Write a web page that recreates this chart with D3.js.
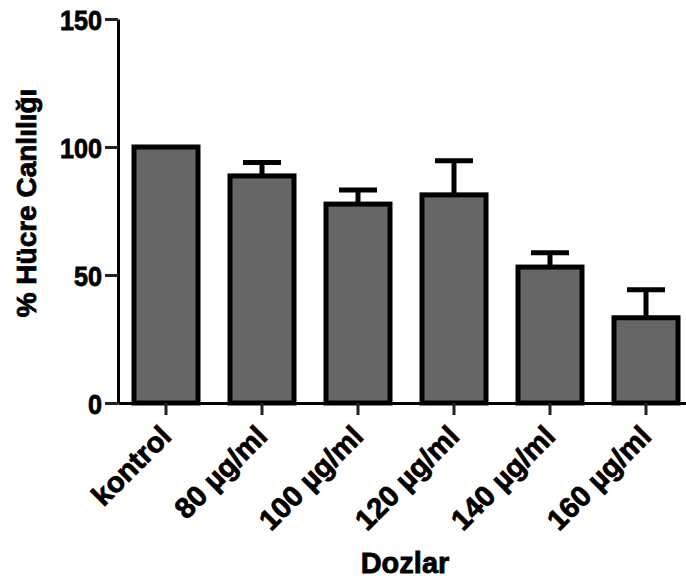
<!DOCTYPE html>
<html>
<head>
<meta charset="utf-8">
<script src="https://cdn.jsdelivr.net/npm/d3@7/dist/d3.min.js"></script>
<style>
  html, body { margin: 0; padding: 0; background: #fff; }
  svg { display: block; }
  text { font-family: "Liberation Sans", Arial, Helvetica, sans-serif; font-weight: bold; fill: #000; stroke: #000; stroke-width: 0.8px; }
</style>
</head>
<body>
<svg id="chart" width="686" height="586"></svg>
<script>
// Cell viability per dose group (mean and upper error)
const categories = ["kontrol", "80 µg/ml", "100 µg/ml", "120 µg/ml", "140 µg/ml", "160 µg/ml"];
const means = [100, 88.7, 77.7, 81.3, 53.1, 33.3];
const errors = [0, 5.2, 5.5, 13.3, 5.6, 10.9];
const yTicks = [0, 50, 100, 150];
const yTitle = "% Hücre Canlılığı";
const xTitle = "Dozlar";

const svg = d3.select("#chart");

const x = d3.scaleBand()
  .domain(categories)
  .range([118, 694])
  .paddingInner(1 / 3)
  .paddingOuter(1 / 6);

const y = d3.scaleLinear()
  .domain([0, 150])
  .range([403, 19]);

const rows = categories.map((c, i) => ({ cat: c, mean: means[i], err: errors[i] }));

// Upper error bars
const eb = svg.append("g").attr("class", "errorbars");
rows.filter(d => d.err > 0).forEach(d => {
  const cx = x(d.cat) + x.bandwidth() / 2;
  eb.append("line")
    .attr("x1", cx).attr("x2", cx)
    .attr("y1", y(d.mean)).attr("y2", y(d.mean + d.err))
    .attr("stroke", "#000").attr("stroke-width", 5);
  eb.append("line")
    .attr("x1", cx - 19).attr("x2", cx + 19)
    .attr("y1", y(d.mean + d.err)).attr("y2", y(d.mean + d.err))
    .attr("stroke", "#000").attr("stroke-width", 5);
});

// Bars
svg.append("g").attr("class", "bars")
  .selectAll("rect")
  .data(rows)
  .join("rect")
  .attr("x", d => x(d.cat))
  .attr("width", x.bandwidth())
  .attr("y", d => y(d.mean))
  .attr("height", d => y(0) - y(d.mean))
  .attr("fill", "#666666")
  .attr("stroke", "#000")
  .attr("stroke-width", 5);

// Y axis
const yAxis = svg.append("g")
  .attr("transform", "translate(118,0)")
  .call(d3.axisLeft(y).tickValues(yTicks).tickSize(13).tickSizeOuter(0).tickPadding(4));
yAxis.select(".domain").attr("stroke", "#000").attr("stroke-width", 3);
yAxis.selectAll(".tick line").attr("stroke", "#222").attr("stroke-width", 3);
yAxis.selectAll(".tick text")
  .attr("font-size", 28)
  .attr("font-family", "Liberation Sans, Arial, sans-serif")
  .attr("font-weight", "bold")
  .attr("fill", "#000")
  .attr("x", 0)
  .attr("dy", "0.36em")
  .attr("transform", "translate(-16,0) scale(0.9,1)");

// X axis
const xAxis = svg.append("g")
  .attr("transform", "translate(0,403)")
  .call(d3.axisBottom(x).tickSize(12).tickSizeOuter(0));
xAxis.select(".domain").attr("stroke", "#000").attr("stroke-width", 3);
xAxis.selectAll(".tick line").attr("stroke", "#222").attr("stroke-width", 3);
xAxis.selectAll(".tick text")
  .attr("font-size", 29)
  .attr("font-family", "Liberation Sans, Arial, sans-serif")
  .attr("font-weight", "bold")
  .attr("fill", "#000")
  .attr("text-anchor", "end")
  .attr("x", 0).attr("y", 0).attr("dy", 0)
  .attr("transform", "translate(7,35) rotate(-45)");

// Axis titles
svg.append("text")
  .attr("transform", "translate(36,203) rotate(-90)")
  .attr("text-anchor", "middle")
  .attr("font-size", 28)
  .text(yTitle);

svg.append("text")
  .attr("x", 405)
  .attr("y", 573)
  .attr("text-anchor", "middle")
  .attr("font-size", 29)
  .text(xTitle);
</script>
</body>
</html>
